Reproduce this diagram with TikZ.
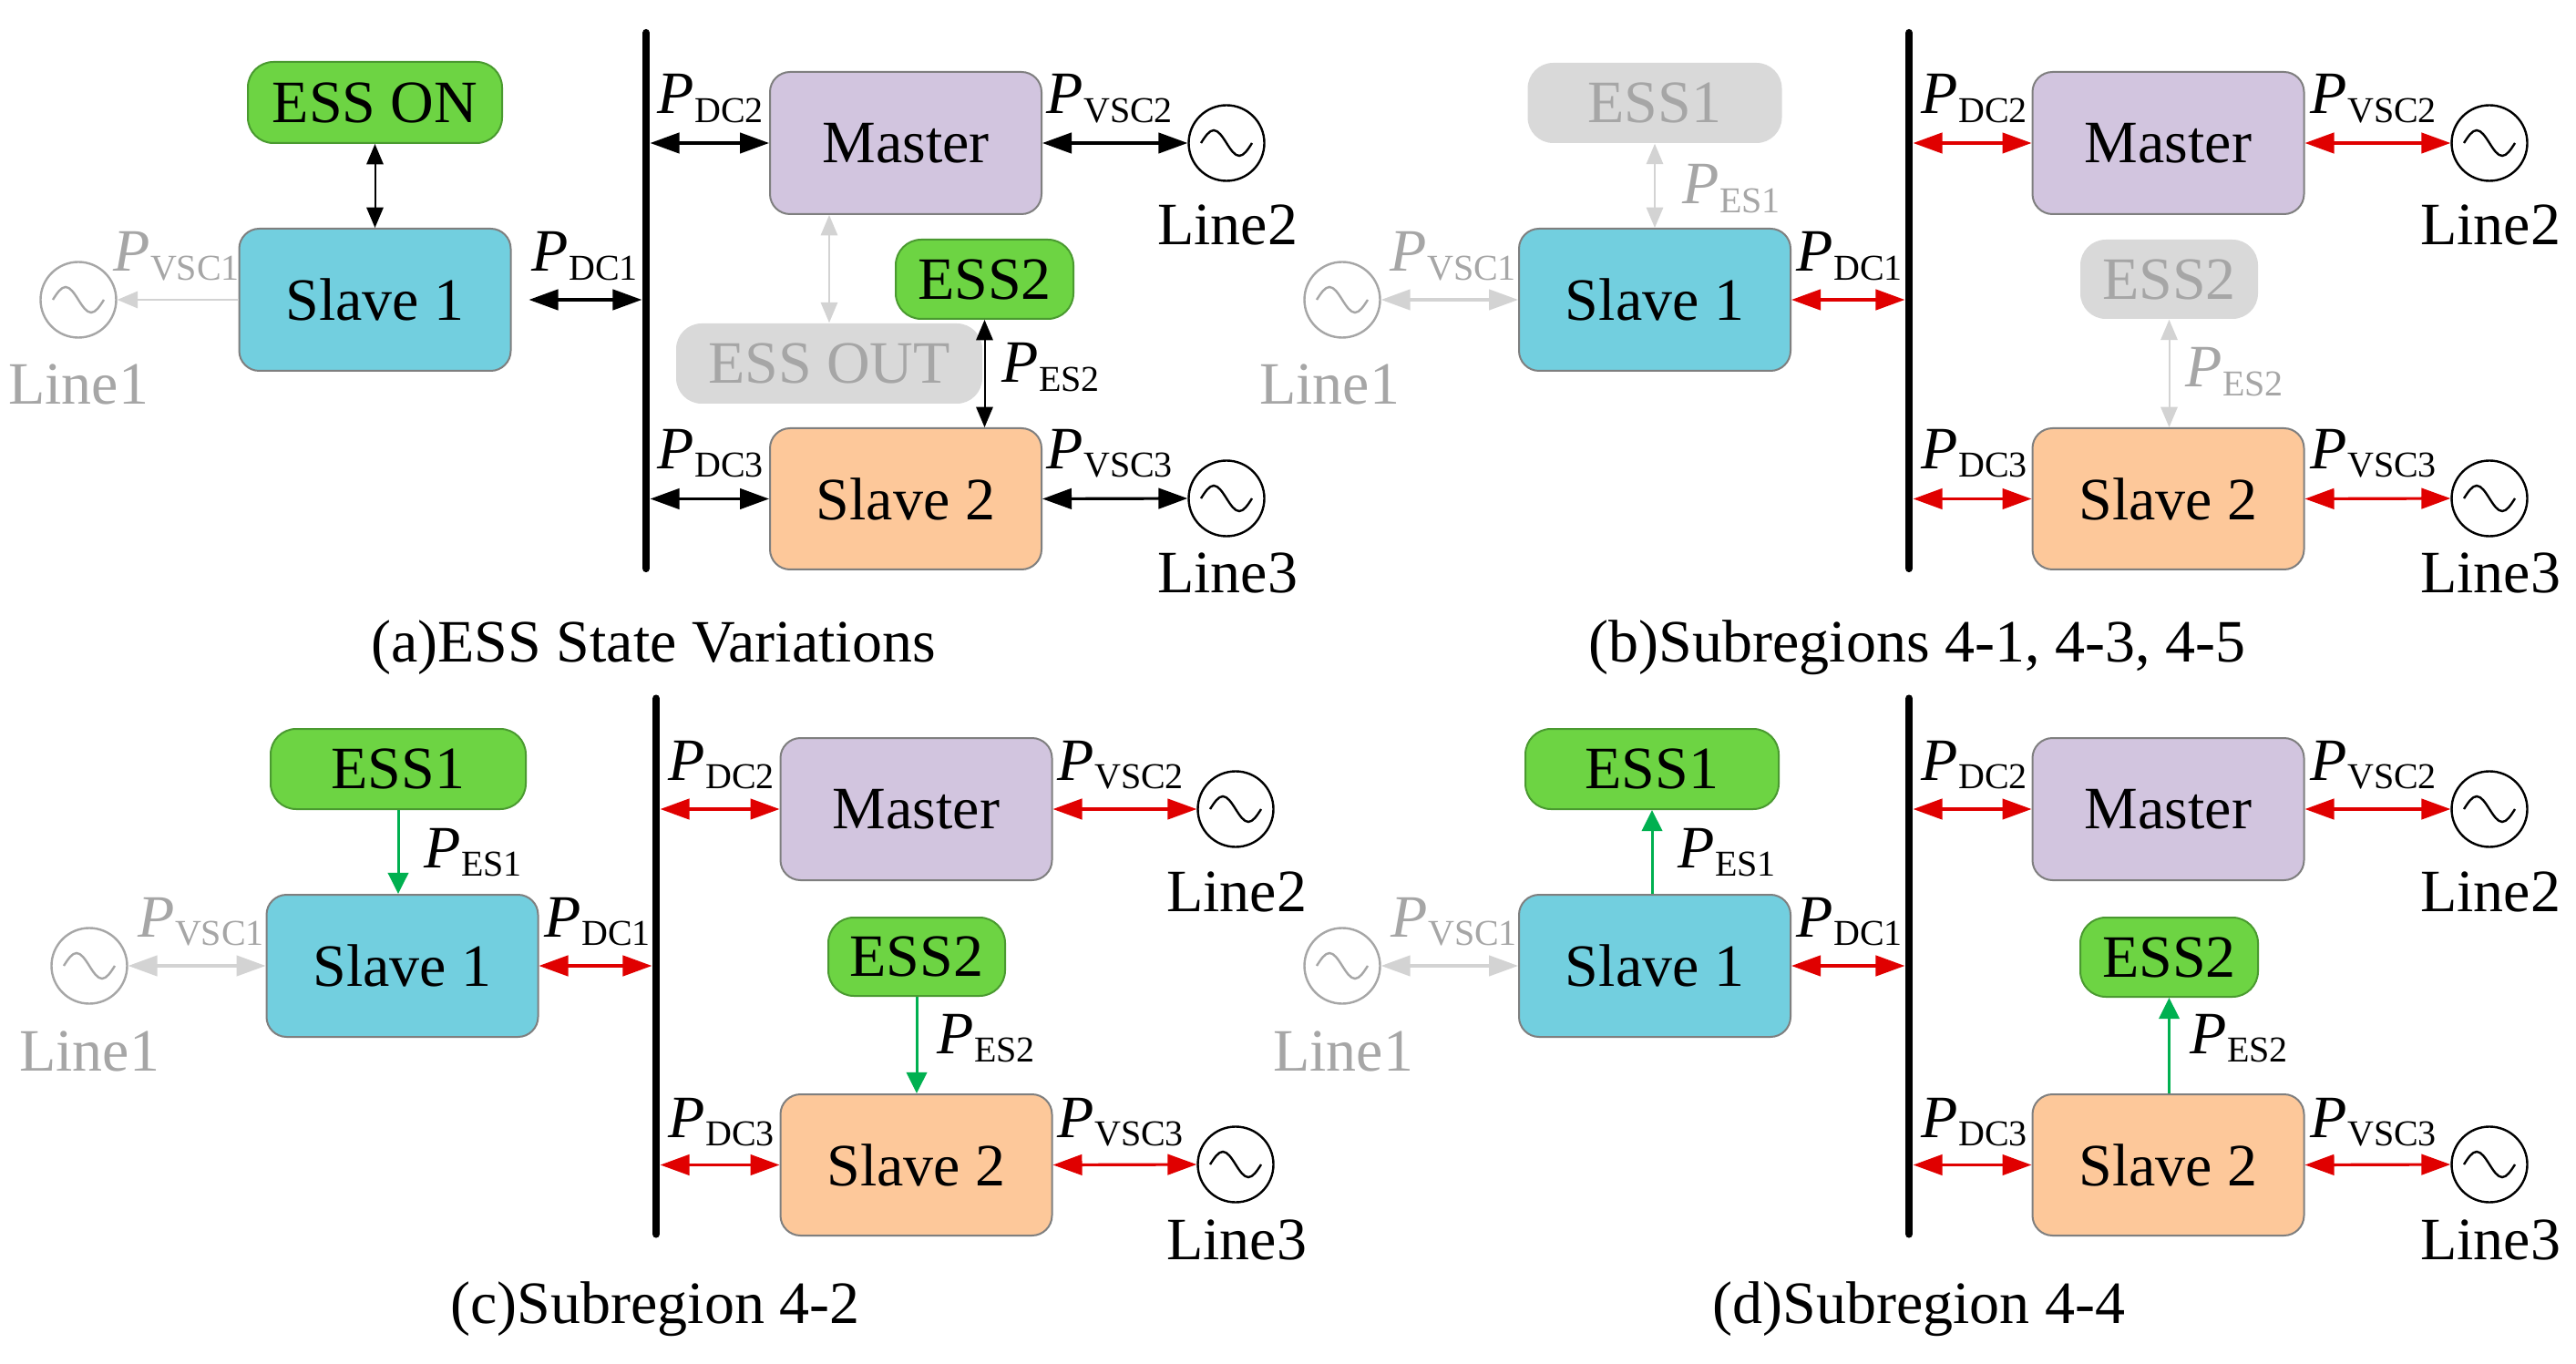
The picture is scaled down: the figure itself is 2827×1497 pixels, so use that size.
\documentclass[tikz,border=0pt]{standalone}
\usepackage{fontspec}
\setmainfont{Liberation Serif}
\usetikzlibrary{arrows.meta,calc}
\definecolor{slaveA}{HTML}{72CFDF}
\definecolor{masterc}{HTML}{D2C5DF}
\definecolor{slaveB}{HTML}{FDC89A}
\definecolor{essg}{HTML}{6DD443}
\definecolor{essgb}{HTML}{4A9A30}
\definecolor{offbox}{HTML}{D9D9D9}
\definecolor{offtxt}{HTML}{A6A6A6}
\definecolor{offarr}{HTML}{D3D3D3}
\definecolor{redarr}{HTML}{E00000}
\definecolor{grnarr}{HTML}{00B050}
\definecolor{boxline}{HTML}{7F7F7F}
\newcommand\Pl[1]{\textit{P}\raisebox{-2.3pt}{\fontsize{10}{10}\selectfont #1}}
\tikzset{
 every node/.style={font=\fontsize{16.5}{19}\selectfont},
 conv/.style={draw=boxline, line width=0.5pt, rounded corners=5.5pt, inner sep=0pt, minimum width=74.5pt, minimum height=39pt},
 slaveone/.style={conv, fill=slaveA},
 masterbox/.style={conv, fill=masterc},
 slavetwo/.style={conv, fill=slaveB},
 esson/.style={draw=essgb, line width=0.5pt, fill=essg, rounded corners=7pt, inner sep=0pt, minimum height=22pt},
 essoff/.style={fill=offbox, text=offtxt, rounded corners=7pt, inner sep=0pt, minimum height=22pt},
 busbar/.style={fill=black, inner sep=0pt, minimum width=1.9pt, minimum height=149pt, rounded corners=0.9pt},
 srcnode/.style={circle, minimum size=20.75pt, inner sep=0pt, line width=0.6pt},
 lbl/.style={anchor=base west, inner sep=0pt},
 linelbl/.style={anchor=base, inner sep=0pt},
 bi/.style={line width=0.8pt, {Triangle[length=8pt,width=5.6pt]}-{Triangle[length=8pt,width=5.6pt]}},
 thinbi/.style={line width=0.5pt, {Triangle[length=5.6pt,width=4.6pt]}-{Triangle[length=5.6pt,width=4.6pt]}},
 thinone/.style={line width=0.5pt, -{Triangle[length=5.6pt,width=4.6pt]}},
 grn/.style={grnarr, line width=0.75pt, -{Triangle[length=5.8pt,width=5.6pt]}},
}
\newcommand\src[4]{%
 \node[srcnode,draw=#4] (#1) at (#2,#3) {};
 \draw[#4, line width=0.6pt] (#1.center) ++(-28,0) sin ++(14,-14) cos ++(14,14) sin ++(14,14) cos ++(14,-14);}
\begin{document}
\begin{tikzpicture}[x=0.25pt,y=-0.25pt]
\useasboundingbox (0,0) rectangle (2827,1497);
\fill[white] (0,0) rectangle (2827,1497);

% ================= (a) =================
\node[busbar] (busa) at (709,330) {};
\node[esson, minimum width=69.75pt, minimum height=22.25pt] (essa) at (411.5,112.5) {ESS ON};
\node[slaveone] (s1a) at (411.5,329) {Slave 1};
\node[masterbox] (ma) at (994,157) {Master};
\node[esson, minimum width=48.75pt, minimum height=21.75pt] (e2a) at (1080.5,306.5) {ESS2};
\node[essoff, minimum width=84pt] (eouta) at (910,399) {ESS OUT};
\node[slavetwo, minimum height=38.75pt] (s2a) at (994,547.5) {Slave 2};
\src{l1a}{86}{329}{offtxt}
\src{l2a}{1346}{157}{black}
\src{l3a}{1346}{547}{black}
\node[linelbl, text=offtxt] (tl1a) at (86,444) {Line1};
\node[linelbl] (tl2a) at (1347,269) {Line2};
\node[linelbl] (tl3a) at (1347,651) {Line3};
\draw[thinbi] (essa.south) -- (s1a.north);
\draw[thinone, offarr] (s1a.west) -- (l1a.east);
\draw[bi, shorten <=4.75pt] (s1a.east) -- (s1a.east -| busa.west);
\draw[bi] (ma.west -| busa.east) -- (ma.west);
\draw[bi] (ma.east) -- (l2a.west);
\draw[bi] (s2a.west -| busa.east) -- (s2a.west);
\draw[bi] (s2a.east) -- (l3a.west);
\draw[thinbi, offarr] (eouta.north) -- (eouta.north |- ma.south);
\draw[thinbi] (e2a.south) -- (e2a.south |- s2a.north);
\node[lbl, text=offtxt] (pv1a) at (124,298) {\Pl{VSC1}};
\node[lbl] (pd1a) at (583,298) {\Pl{DC1}};
\node[lbl] (pd2a) at (721,125) {\Pl{DC2}};
\node[lbl] (pv2a) at (1148,125) {\Pl{VSC2}};
\node[lbl] (pd3a) at (721,514) {\Pl{DC3}};
\node[lbl] (pv3a) at (1148,514) {\Pl{VSC3}};
\node[lbl] (pe2a) at (1099,420) {\Pl{ES2}};
\node[linelbl] (capa) at (717,727) {(a)ESS State Variations};

% ================= (b) =================
\node[busbar] (busb) at (2095,330) {};
\node[essoff, minimum width=69.75pt, minimum height=22pt] (e1b) at (1816,113) {ESS1};
\node[slaveone] (s1b) at (1816,329) {Slave 1};
\node[masterbox] (mb) at (2379.5,157) {Master};
\node[essoff, minimum width=48.75pt, minimum height=21.75pt] (e2b) at (2380.5,306.5) {ESS2};
\node[slavetwo, minimum height=38.75pt] (s2b) at (2379.5,547.5) {Slave 2};
\src{l1b}{1473}{329}{offtxt}
\src{l2b}{2732}{157}{black}
\src{l3b}{2732}{547}{black}
\node[linelbl, text=offtxt] (tl1b) at (1459,444) {Line1};
\node[linelbl] (tl2b) at (2733,269) {Line2};
\node[linelbl] (tl3b) at (2733,651) {Line3};
\draw[thinbi, offarr] (e1b.south) -- (s1b.north);
\draw[bi, offarr] (l1b.east) -- (s1b.west);
\draw[bi, redarr] (s1b.east) -- (s1b.east -| busb.west);
\draw[bi, redarr] (mb.west -| busb.east) -- (mb.west);
\draw[bi, redarr] (mb.east) -- (l2b.west);
\draw[bi, redarr] (s2b.west -| busb.east) -- (s2b.west);
\draw[bi, redarr] (s2b.east) -- (l3b.west);
\draw[thinbi, offarr] (e2b.south) -- (e2b.south |- s2b.north);
\node[lbl, text=offtxt] (pv1b) at (1525,298) {\Pl{VSC1}};
\node[lbl, text=offtxt] (pe1b) at (1846,224) {\Pl{ES1}};
\node[lbl] (pd1b) at (1971,298) {\Pl{DC1}};
\node[lbl] (pd2b) at (2108,125) {\Pl{DC2}};
\node[lbl] (pv2b) at (2535,125) {\Pl{VSC2}};
\node[lbl] (pd3b) at (2108,514) {\Pl{DC3}};
\node[lbl] (pv3b) at (2535,514) {\Pl{VSC3}};
\node[lbl, text=offtxt] (pe2b) at (2398,425) {\Pl{ES2}};
\node[linelbl] (capb) at (2104,727) {(b)Subregions 4-1, 4-3, 4-5};

% ================= (c) =================
\node[busbar] (busc) at (720,1060.5) {};
\node[esson, minimum width=70pt, minimum height=22pt] (e1c) at (437,844) {ESS1};
\node[slaveone] (s1c) at (441.5,1060) {Slave 1};
\node[masterbox] (mc) at (1005.5,888) {Master};
\node[esson, minimum width=48.5pt, minimum height=21.5pt] (e2c) at (1006,1050) {ESS2};
\node[slavetwo, minimum height=38.75pt] (s2c) at (1005.5,1278.5) {Slave 2};
\src{l1c}{98}{1060}{offtxt}
\src{l2c}{1356}{888}{black}
\src{l3c}{1356}{1278}{black}
\node[linelbl, text=offtxt] (tl1c) at (98,1175) {Line1};
\node[linelbl] (tl2c) at (1357,1000) {Line2};
\node[linelbl] (tl3c) at (1357,1382) {Line3};
\draw[grn] (e1c.south) -- (e1c.south |- s1c.north);
\draw[bi, offarr] (l1c.east) -- (s1c.west);
\draw[bi, redarr] (s1c.east) -- (s1c.east -| busc.west);
\draw[bi, redarr] (mc.west -| busc.east) -- (mc.west);
\draw[bi, redarr] (mc.east) -- (l2c.west);
\draw[bi, redarr] (s2c.west -| busc.east) -- (s2c.west);
\draw[bi, redarr] (s2c.east) -- (l3c.west);
\draw[grn] (e2c.south) -- (e2c.south |- s2c.north);
\node[lbl, text=offtxt] (pv1c) at (151,1028) {\Pl{VSC1}};
\node[lbl] (pe1c) at (465,952) {\Pl{ES1}};
\node[lbl] (pd1c) at (597,1028) {\Pl{DC1}};
\node[lbl] (pd2c) at (733,856) {\Pl{DC2}};
\node[lbl] (pv2c) at (1160,856) {\Pl{VSC2}};
\node[lbl] (pd3c) at (733,1248) {\Pl{DC3}};
\node[lbl] (pv3c) at (1160,1248) {\Pl{VSC3}};
\node[lbl] (pe2c) at (1028,1156) {\Pl{ES2}};
\node[linelbl] (capc) at (719,1452) {(c)Subregion 4-2};

% ================= (d) =================
\node[busbar] (busd) at (2095,1060.5) {};
\node[esson, minimum width=69.5pt, minimum height=22pt] (e1d) at (1813,844) {ESS1};
\node[slaveone] (s1d) at (1816,1060) {Slave 1};
\node[masterbox] (md) at (2379.5,888) {Master};
\node[esson, minimum width=48.75pt, minimum height=21.75pt] (e2d) at (2380.5,1050.5) {ESS2};
\node[slavetwo, minimum height=38.75pt] (s2d) at (2379.5,1278.5) {Slave 2};
\src{l1d}{1473}{1060}{offtxt}
\src{l2d}{2732}{888}{black}
\src{l3d}{2732}{1278}{black}
\node[linelbl, text=offtxt] (tl1d) at (1474,1175) {Line1};
\node[linelbl] (tl2d) at (2733,1000) {Line2};
\node[linelbl] (tl3d) at (2733,1382) {Line3};
\draw[grn] (e1d.south |- s1d.north) -- (e1d.south);
\draw[bi, offarr] (l1d.east) -- (s1d.west);
\draw[bi, redarr] (s1d.east) -- (s1d.east -| busd.west);
\draw[bi, redarr] (md.west -| busd.east) -- (md.west);
\draw[bi, redarr] (md.east) -- (l2d.west);
\draw[bi, redarr] (s2d.west -| busd.east) -- (s2d.west);
\draw[bi, redarr] (s2d.east) -- (l3d.west);
\draw[grn] (e2d.south |- s2d.north) -- (e2d.south);
\node[lbl, text=offtxt] (pv1d) at (1526,1028) {\Pl{VSC1}};
\node[lbl] (pe1d) at (1841,952) {\Pl{ES1}};
\node[lbl] (pd1d) at (1971,1028) {\Pl{DC1}};
\node[lbl] (pd2d) at (2108,856) {\Pl{DC2}};
\node[lbl] (pv2d) at (2535,856) {\Pl{VSC2}};
\node[lbl] (pd3d) at (2108,1248) {\Pl{DC3}};
\node[lbl] (pv3d) at (2535,1248) {\Pl{VSC3}};
\node[lbl] (pe2d) at (2403,1156) {\Pl{ES2}};
\node[linelbl] (capd) at (2106,1452) {(d)Subregion 4-4};
\end{tikzpicture}
\end{document}
